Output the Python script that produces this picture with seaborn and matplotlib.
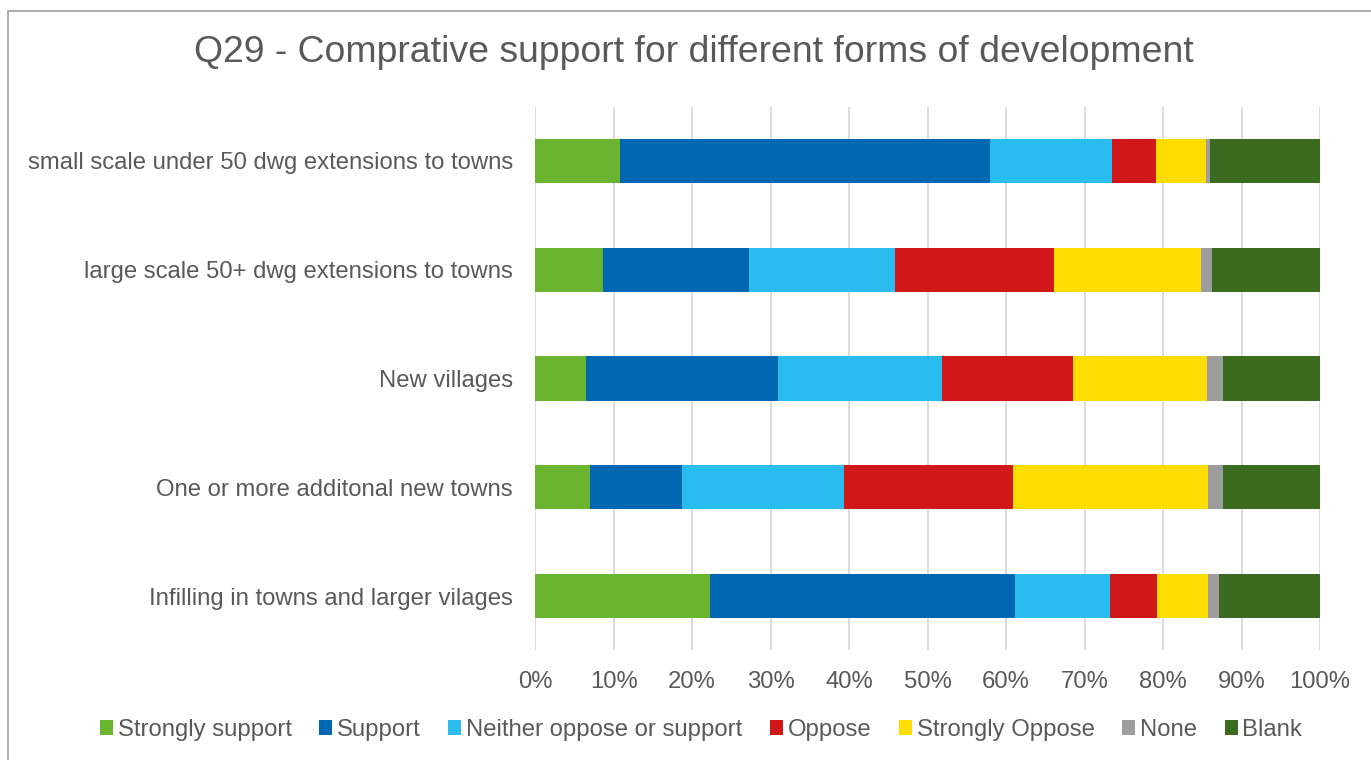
import numpy as np
import pandas as pd
import matplotlib
matplotlib.use("Agg")
import matplotlib.pyplot as plt
from matplotlib.patches import Patch, Rectangle
from matplotlib.ticker import PercentFormatter
import seaborn as sns

# Forms of development (top to bottom)
categories = [
    "small scale under 50 dwg extensions to towns",
    "large scale 50+ dwg extensions to towns",
    "New villages",
    "One or more additonal new towns",
    "Infilling in towns and larger vilages",
]

# Share of responses (%) per answer
strongly_support = [10.8, 8.7, 6.5, 7.0, 22.3]
support = [47.1, 18.5, 24.4, 11.7, 38.9]
neither = [15.6, 18.7, 21.0, 20.6, 12.0]
oppose = [5.6, 20.2, 16.6, 21.6, 6.0]
strongly_oppose = [6.4, 18.8, 17.1, 24.8, 6.5]
none_ = [0.5, 1.4, 2.1, 2.0, 1.4]
blank = [14.0, 13.7, 12.3, 12.3, 12.9]

series_names = ["Strongly support", "Support", "Neither oppose or support",
                "Oppose", "Strongly Oppose", "None", "Blank"]
series_values = [strongly_support, support, neither, oppose,
                 strongly_oppose, none_, blank]
colors = ["#6AB42F", "#0068B2", "#2ABCEF", "#D0181B", "#FFDD00", "#9D9D9D", "#3B6B1E"]
tick_values = np.arange(0, 101, 10)

sns.set_theme(style="white")
plt.rcParams["font.family"] = ["Liberation Sans", "DejaVu Sans"]
text_color = "#595959"

fig = plt.figure(figsize=(13.71, 7.6), dpi=100)
ax = fig.add_axes([535 / 1371, 1 - 650.4 / 760, 785 / 1371, (650.4 - 106.6) / 760])

# Stacked bars: draw cumulative totals from the right-most segment inward
vals = np.array(series_values)
cum = np.cumsum(vals, axis=0)
for name, c, color in reversed(list(zip(series_names, cum, colors))):
    df = pd.DataFrame({"category": categories, "value": c})
    sns.barplot(data=df, x="value", y="category", order=categories,
                color=color, width=0.405, linewidth=0, saturation=1,
                ax=ax, zorder=3)

ax.set_xlim(0, 100)
ax.set_ylim(4.5, -0.5)
ax.set_xticks(tick_values)
ax.xaxis.set_major_formatter(PercentFormatter(100, decimals=0))
ax.grid(axis="x", color="#D9D9D9", linewidth=1.3, zorder=0)
ax.grid(axis="y", visible=False)
ax.set_axisbelow(True)
for s in ax.spines.values():
    s.set_visible(False)
ax.set_xlabel("")
ax.set_ylabel("")
ax.tick_params(axis="x", length=0, pad=15, labelsize=17.2, labelcolor=text_color)
ax.tick_params(axis="y", length=0, pad=16, labelsize=17.2, labelcolor=text_color)

fig.text(693.5 / 1371, 1 - 53 / 760, "Q29 - Comprative support for different forms of development",
         ha="center", va="center", fontsize=26.9, color=text_color)

handles = [Patch(facecolor=col, edgecolor="none", label=n) for n, col in zip(series_names, colors)]
fig.legend(handles=handles, loc="center", bbox_to_anchor=(701 / 1371, 1 - 730 / 760),
           ncol=7, frameon=False, fontsize=17.2, labelcolor=text_color,
           handlelength=0.55, handleheight=0.55, handletextpad=0.2,
           columnspacing=1.15, borderaxespad=0)

# Chart frame
fig.patches.append(Rectangle((8 / 1371, -0.02), 1.05, 1 - 11 / 760 + 0.02,
                             transform=fig.transFigure, fill=False,
                             edgecolor="#A0A0A0", linewidth=1.2, zorder=10))

fig.savefig("out.png", dpi=100)
